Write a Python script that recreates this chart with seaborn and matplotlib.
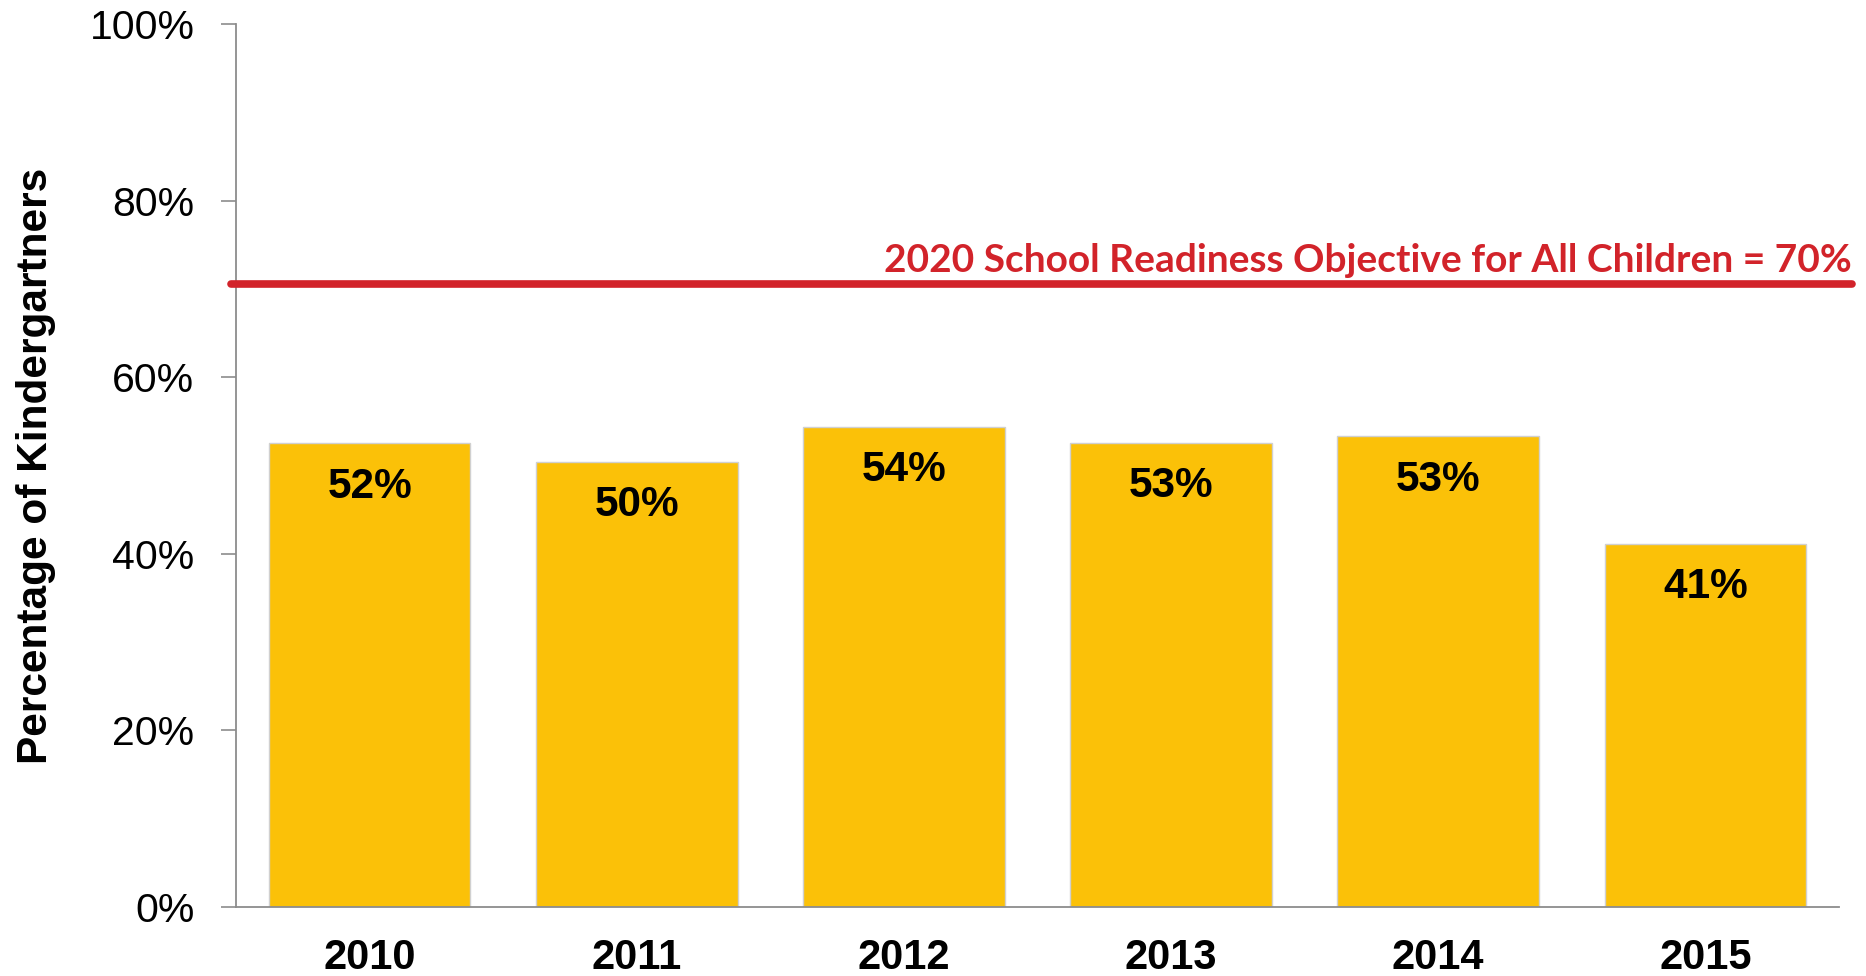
import pandas as pd
import matplotlib
matplotlib.use('Agg')
import matplotlib.pyplot as plt
import seaborn as sns

# Values
years = ['2010', '2011', '2012', '2013', '2014', '2015']
pct_ready = [52.5, 50.4, 54.4, 52.6, 53.3, 41.1]
bar_labels = ['52%', '50%', '54%', '53%', '53%', '41%']
target = 70.6
target_label = '2020 School Readiness Objective for All Children = 70%'
y_ticks = [0, 20, 40, 60, 80, 100]

df = pd.DataFrame({'year': years, 'pct': pct_ready})

sns.set_style('white')
plt.rcParams['font.family'] = ['Liberation Sans', 'DejaVu Sans']
plt.rcParams['text.color'] = 'black'
plt.rcParams['axes.labelcolor'] = 'black'
plt.rcParams['xtick.color'] = 'black'
plt.rcParams['ytick.color'] = 'black'

fig = plt.figure(figsize=(18.66, 9.76), dpi=100)
ax = fig.add_axes([0.1265, 0.0707, 0.859, 0.9047])

sns.barplot(data=df, x='year', y='pct', color='#FBC108', saturation=1,
            width=0.755, edgecolor='#D0D0D0', linewidth=1, ax=ax)

ax.set_xlim(-0.5, 5.5)
ax.set_ylim(0, 100)
ax.set_yticks(y_ticks)
ax.set_yticklabels([f'{t}%' for t in y_ticks], fontsize=29.5)
ax.tick_params(axis='y', direction='out', length=11, width=1.2, color='#8C8C8C',
               labelcolor='black', pad=19, left=True)
ax.tick_params(axis='x', length=0, pad=22, labelcolor='black')
for lbl in ax.get_xticklabels():
    lbl.set_fontsize(30)
    lbl.set_fontweight('bold')

ax.set_xlabel('')
ax.set_ylabel('Percentage of Kindergartners', fontsize=30.5, fontweight='bold', labelpad=24)

for side in ['top', 'right']:
    ax.spines[side].set_visible(False)
for side in ['left', 'bottom']:
    ax.spines[side].set_color('#8C8C8C')
    ax.spines[side].set_linewidth(1.3)

# value labels inside the bars
for i, (v, txt) in enumerate(zip(pct_ready, bar_labels)):
    ax.text(i, v - 4.9, txt, ha='center', va='center', fontsize=30.5,
            fontweight='bold', color='black')

# target line
ax.axhline(target, xmin=-0.003, xmax=1.008, color='#D2232A', linewidth=5.5, clip_on=False, zorder=5)
ax.text(1.008, target + 0.6, target_label, transform=ax.get_yaxis_transform(),
        ha='right', va='bottom', fontsize=28, fontweight='bold', color='#D2232A',
        family=['Lato', 'DejaVu Sans'])

plt.savefig('out.png', dpi=100)
plt.close()
